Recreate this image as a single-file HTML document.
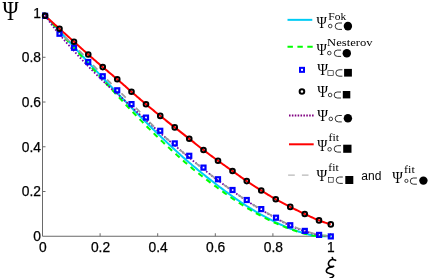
<!DOCTYPE html><html><head><meta charset="utf-8"><style>html,body{margin:0;padding:0;background:#fff;overflow:hidden}svg{display:block;will-change:transform}</style></head><body><svg width="436" height="278" viewBox="0 0 436 278">
<rect width="436" height="278" fill="#fff"/>
<g stroke="#6a6a6a" stroke-width="1" fill="none">
<path d="M42.5,12.5 V236.25 H331"/>
<path d="M42.5,191.51 h3"/>
<path d="M100.10,236.25 v-3"/>
<path d="M42.5,146.77 h3"/>
<path d="M157.70,236.25 v-3"/>
<path d="M42.5,102.03 h3"/>
<path d="M215.30,236.25 v-3"/>
<path d="M42.5,57.29 h3"/>
<path d="M272.90,236.25 v-3"/>
<path d="M42.5,12.55 h3"/>
<path d="M330.50,236.25 v-3"/>
</g>
<g font-family="Liberation Sans, sans-serif" font-size="13.8" fill="#000" stroke="#000" stroke-width="0.25">
<text x="40.9" y="240.95" text-anchor="end">0</text>
<text x="42.90" y="251.7" text-anchor="middle">0</text>
<text x="40.9" y="196.46" text-anchor="end">0.2</text>
<text x="100.50" y="251.7" text-anchor="middle">0.2</text>
<text x="40.9" y="151.72" text-anchor="end">0.4</text>
<text x="158.10" y="251.7" text-anchor="middle">0.4</text>
<text x="40.9" y="106.98" text-anchor="end">0.6</text>
<text x="215.70" y="251.7" text-anchor="middle">0.6</text>
<text x="40.9" y="62.24" text-anchor="end">0.8</text>
<text x="273.30" y="251.7" text-anchor="middle">0.8</text>
<text x="40.9" y="17.50" text-anchor="end">1</text>
<text x="330.90" y="251.7" text-anchor="middle">1</text>
</g>
<g fill="none" stroke-linejoin="round">
<path d="M45.10,15.40 L46.06,16.44 L47.01,17.49 L47.97,18.53 L48.92,19.58 L49.88,20.62 L50.83,21.67 L51.79,22.71 L52.74,23.76 L53.70,24.80 L54.66,25.85 L55.61,26.89 L56.57,27.94 L57.52,28.98 L58.48,30.03 L59.43,31.07 L60.39,32.11 L61.34,33.16 L62.30,34.20 L63.25,35.24 L64.21,36.28 L65.17,37.32 L66.12,38.36 L67.08,39.41 L68.03,40.45 L68.99,41.49 L69.94,42.52 L70.90,43.56 L71.85,44.60 L72.81,45.64 L73.77,46.68 L74.72,47.71 L75.68,48.75 L76.63,49.79 L77.59,50.82 L78.54,51.85 L79.50,52.89 L80.45,53.92 L81.41,54.95 L82.37,55.99 L83.32,57.02 L84.28,58.05 L85.23,59.08 L86.19,60.11 L87.14,61.13 L88.10,62.16 L89.05,63.19 L90.01,64.21 L90.96,65.24 L91.92,66.26 L92.88,67.29 L93.83,68.31 L94.79,69.33 L95.74,70.35 L96.70,71.37 L97.65,72.39 L98.61,73.40 L99.56,74.42 L100.52,75.44 L101.48,76.45 L102.43,77.46 L103.39,78.48 L104.34,79.49 L105.30,80.50 L106.25,81.51 L107.21,82.51 L108.16,83.52 L109.12,84.53 L110.08,85.53 L111.03,86.53 L111.99,87.54 L112.94,88.54 L113.90,89.54 L114.85,90.53 L115.81,91.53 L116.76,92.53 L117.72,93.52 L118.67,94.51 L119.63,95.51 L120.59,96.50 L121.54,97.48 L122.50,98.47 L123.45,99.46 L124.41,100.44 L125.36,101.42 L126.32,102.41 L127.27,103.38 L128.23,104.36 L129.19,105.34 L130.14,106.31 L131.10,107.29 L132.05,108.26 L133.01,109.23 L133.96,110.20 L134.92,111.17 L135.87,112.13 L136.83,113.09 L137.79,114.06 L138.74,115.01 L139.70,115.97 L140.65,116.93 L141.61,117.88 L142.56,118.84 L143.52,119.79 L144.47,120.74 L145.43,121.68 L146.38,122.63 L147.34,123.57 L148.30,124.51 L149.25,125.45 L150.21,126.39 L151.16,127.32 L152.12,128.26 L153.07,129.19 L154.03,130.12 L154.98,131.04 L155.94,131.97 L156.90,132.89 L157.85,133.81 L158.81,134.73 L159.76,135.64 L160.72,136.56 L161.67,137.47 L162.63,138.38 L163.58,139.29 L164.54,140.19 L165.50,141.09 L166.45,141.99 L167.41,142.89 L168.36,143.78 L169.32,144.68 L170.27,145.57 L171.23,146.45 L172.18,147.34 L173.14,148.22 L174.09,149.10 L175.05,149.98 L176.01,150.85 L176.96,151.73 L177.92,152.60 L178.87,153.46 L179.83,154.33 L180.78,155.19 L181.74,156.05 L182.69,156.90 L183.65,157.76 L184.61,158.61 L185.56,159.45 L186.52,160.30 L187.47,161.12 L188.43,161.93 L189.38,162.75 L190.34,163.56 L191.29,164.36 L192.25,165.17 L193.21,165.97 L194.16,166.77 L195.12,167.56 L196.07,168.35 L197.03,169.14 L197.98,169.93 L198.94,170.71 L199.89,171.49 L200.85,172.26 L201.81,173.04 L202.76,173.81 L203.72,174.57 L204.67,175.34 L205.63,176.10 L206.58,176.85 L207.54,177.60 L208.49,178.35 L209.45,179.10 L210.40,179.84 L211.36,180.58 L212.32,181.32 L213.27,182.05 L214.23,182.78 L215.18,183.50 L216.14,184.24 L217.09,184.98 L218.05,185.72 L219.00,186.45 L219.96,187.18 L220.92,187.91 L221.87,188.63 L222.83,189.35 L223.78,190.06 L224.74,190.77 L225.69,191.48 L226.65,192.18 L227.60,192.88 L228.56,193.57 L229.52,194.26 L230.47,194.95 L231.43,195.63 L232.38,196.31 L233.34,196.98 L234.29,197.65 L235.25,198.32 L236.20,198.98 L237.16,199.64 L238.11,200.29 L239.07,200.94 L240.03,201.58 L240.98,202.22 L241.94,202.86 L242.89,203.49 L243.85,204.12 L244.80,204.74 L245.76,205.36 L246.71,205.97 L247.67,206.58 L248.63,207.18 L249.58,207.78 L250.54,208.37 L251.49,208.96 L252.45,209.55 L253.40,210.13 L254.36,210.71 L255.31,211.28 L256.27,211.84 L257.23,212.40 L258.18,212.96 L259.14,213.51 L260.09,214.06 L261.05,214.60 L262.00,215.13 L262.96,215.66 L263.91,216.19 L264.87,216.71 L265.82,217.23 L266.78,217.74 L267.74,218.24 L268.69,218.74 L269.65,219.24 L270.60,219.73 L271.56,220.21 L272.51,220.69 L273.47,221.16 L274.42,221.63 L275.38,222.09 L276.34,222.55 L277.29,223.00 L278.25,223.44 L279.20,223.88 L280.16,224.32 L281.11,224.74 L282.07,225.17 L283.02,225.58 L283.98,226.00 L284.94,226.40 L285.89,226.80 L286.85,227.19 L287.80,227.58 L288.76,227.96 L289.71,228.34 L290.67,228.71 L291.62,229.07 L292.58,229.43 L293.53,229.78 L294.49,230.12 L295.45,230.46 L296.40,230.80 L297.36,231.12 L298.31,231.44 L299.27,231.76 L300.22,232.06 L301.18,232.36 L302.13,232.66 L303.09,232.95 L304.05,233.23 L305.00,233.50 L305.96,233.77 L306.91,234.03 L307.87,234.29 L308.82,234.54 L309.78,234.78 L310.73,235.01 L311.69,235.24 L312.65,235.46 L313.60,235.68 L314.56,235.88 L315.51,236.08 L316.47,236.25 L317.42,236.25 L318.38,236.25 L319.33,236.25 L320.29,236.25 L321.24,236.25 L322.20,236.25 L323.16,236.25 L324.11,236.25 L325.07,236.25 L326.02,236.25 L326.98,236.25 L327.93,236.25 L328.89,236.25 L329.84,236.25 L330.80,236.25" stroke="#00ccf5" stroke-width="2"/>
<path d="M45.10,15.40 L46.06,16.48 L47.01,17.56 L47.97,18.64 L48.92,19.72 L49.88,20.80 L50.83,21.88 L51.79,22.95 L52.74,24.03 L53.70,25.11 L54.66,26.19 L55.61,27.27 L56.57,28.34 L57.52,29.42 L58.48,30.50 L59.43,31.57 L60.39,32.65 L61.34,33.72 L62.30,34.80 L63.25,35.87 L64.21,36.95 L65.17,38.02 L66.12,39.09 L67.08,40.17 L68.03,41.24 L68.99,42.31 L69.94,43.38 L70.90,44.45 L71.85,45.52 L72.81,46.59 L73.77,47.66 L74.72,48.72 L75.68,49.79 L76.63,50.85 L77.59,51.92 L78.54,52.98 L79.50,54.05 L80.45,55.11 L81.41,56.17 L82.37,57.23 L83.32,58.29 L84.28,59.35 L85.23,60.41 L86.19,61.46 L87.14,62.52 L88.10,63.58 L89.05,64.63 L90.01,65.69 L90.96,66.74 L91.92,67.80 L92.88,68.85 L93.83,69.90 L94.79,70.95 L95.74,72.00 L96.70,73.05 L97.65,74.10 L98.61,75.15 L99.56,76.20 L100.52,77.25 L101.48,78.30 L102.43,79.35 L103.39,80.40 L104.34,81.44 L105.30,82.49 L106.25,83.54 L107.21,84.59 L108.16,85.63 L109.12,86.68 L110.08,87.72 L111.03,88.76 L111.99,89.81 L112.94,90.85 L113.90,91.89 L114.85,92.93 L115.81,93.96 L116.76,95.00 L117.72,96.03 L118.67,97.06 L119.63,98.09 L120.59,99.12 L121.54,100.14 L122.50,101.17 L123.45,102.19 L124.41,103.20 L125.36,104.22 L126.32,105.23 L127.27,106.24 L128.23,107.24 L129.19,108.25 L130.14,109.25 L131.10,110.25 L132.05,111.25 L133.01,112.24 L133.96,113.24 L134.92,114.23 L135.87,115.23 L136.83,116.22 L137.79,117.21 L138.74,118.19 L139.70,119.18 L140.65,120.16 L141.61,121.14 L142.56,122.11 L143.52,123.09 L144.47,124.06 L145.43,125.03 L146.38,126.00 L147.34,126.96 L148.30,127.92 L149.25,128.87 L150.21,129.83 L151.16,130.78 L152.12,131.72 L153.07,132.66 L154.03,133.60 L154.98,134.53 L155.94,135.46 L156.90,136.39 L157.85,137.31 L158.81,138.23 L159.76,139.14 L160.72,140.05 L161.67,140.96 L162.63,141.87 L163.58,142.77 L164.54,143.67 L165.50,144.57 L166.45,145.47 L167.41,146.36 L168.36,147.25 L169.32,148.14 L170.27,149.02 L171.23,149.90 L172.18,150.78 L173.14,151.65 L174.09,152.52 L175.05,153.39 L176.01,154.26 L176.96,155.12 L177.92,155.98 L178.87,156.84 L179.83,157.70 L180.78,158.55 L181.74,159.40 L182.69,160.24 L183.65,161.09 L184.61,161.93 L185.56,162.77 L186.52,163.60 L187.47,164.41 L188.43,165.21 L189.38,166.01 L190.34,166.80 L191.29,167.59 L192.25,168.38 L193.21,169.16 L194.16,169.94 L195.12,170.71 L196.07,171.48 L197.03,172.25 L197.98,173.01 L198.94,173.77 L199.89,174.52 L200.85,175.27 L201.81,176.02 L202.76,176.76 L203.72,177.50 L204.67,178.23 L205.63,178.97 L206.58,179.69 L207.54,180.42 L208.49,181.14 L209.45,181.86 L210.40,182.58 L211.36,183.29 L212.32,184.00 L213.27,184.70 L214.23,185.40 L215.18,186.10 L216.14,186.82 L217.09,187.53 L218.05,188.25 L219.00,188.95 L219.96,189.66 L220.92,190.36 L221.87,191.05 L222.83,191.74 L223.78,192.43 L224.74,193.12 L225.69,193.80 L226.65,194.47 L227.60,195.14 L228.56,195.81 L229.52,196.47 L230.47,197.13 L231.43,197.79 L232.38,198.44 L233.34,199.09 L234.29,199.73 L235.25,200.37 L236.20,201.00 L237.16,201.63 L238.11,202.26 L239.07,202.88 L240.03,203.50 L240.98,204.11 L241.94,204.72 L242.89,205.32 L243.85,205.92 L244.80,206.52 L245.76,207.11 L246.71,207.70 L247.67,208.28 L248.63,208.85 L249.58,209.43 L250.54,209.99 L251.49,210.56 L252.45,211.11 L253.40,211.67 L254.36,212.22 L255.31,212.76 L256.27,213.30 L257.23,213.83 L258.18,214.36 L259.14,214.89 L260.09,215.40 L261.05,215.92 L262.00,216.43 L262.96,216.93 L263.91,217.43 L264.87,217.93 L265.82,218.42 L266.78,218.90 L267.74,219.38 L268.69,219.85 L269.65,220.32 L270.60,220.79 L271.56,221.24 L272.51,221.70 L273.47,222.15 L274.42,222.59 L275.38,223.02 L276.34,223.45 L277.29,223.88 L278.25,224.30 L279.20,224.71 L280.16,225.12 L281.11,225.52 L282.07,225.92 L283.02,226.31 L283.98,226.69 L284.94,227.07 L285.89,227.45 L286.85,227.81 L287.80,228.18 L288.76,228.53 L289.71,228.88 L290.67,229.23 L291.62,229.57 L292.58,229.90 L293.53,230.23 L294.49,230.56 L295.45,230.88 L296.40,231.19 L297.36,231.50 L298.31,231.80 L299.27,232.09 L300.22,232.39 L301.18,232.67 L302.13,232.95 L303.09,233.23 L304.05,233.49 L305.00,233.76 L305.96,234.01 L306.91,234.26 L307.87,234.50 L308.82,234.74 L309.78,234.97 L310.73,235.19 L311.69,235.40 L312.65,235.61 L313.60,235.82 L314.56,235.85 L315.51,235.85 L316.47,235.85 L317.42,235.85 L318.38,235.85 L319.33,235.85 L320.29,235.85 L321.24,235.85 L322.20,235.85 L323.16,235.85 L324.11,235.85 L325.07,235.85 L326.02,235.85 L326.98,235.85 L327.93,235.85 L328.89,235.85 L329.84,235.85 L330.80,235.85" stroke="#00ff00" stroke-width="2" stroke-dasharray="5.4 4.6" stroke-dashoffset="9.66"/>
<path d="M45.10,15.80 L46.06,17.12 L47.01,18.43 L47.97,19.74 L48.92,21.03 L49.88,22.31 L50.83,23.58 L51.79,24.84 L52.74,26.08 L53.70,27.31 L54.66,28.53 L55.61,29.73 L56.57,30.91 L57.52,32.07 L58.48,33.22 L59.43,34.35 L60.39,35.46 L61.34,36.60 L62.30,37.74 L63.25,38.89 L64.21,40.04 L65.17,41.18 L66.12,42.30 L67.08,43.40 L68.03,44.47 L68.99,45.50 L69.94,46.53 L70.90,47.57 L71.85,48.61 L72.81,49.66 L73.77,50.72 L74.72,51.79 L75.68,52.86 L76.63,53.93 L77.59,54.99 L78.54,56.04 L79.50,57.09 L80.45,58.12 L81.41,59.15 L82.37,60.17 L83.32,61.18 L84.28,62.20 L85.23,63.21 L86.19,64.21 L87.14,65.21 L88.10,66.20 L89.05,67.19 L90.01,68.17 L90.96,69.14 L91.92,70.11 L92.88,71.06 L93.83,72.01 L94.79,72.95 L95.74,73.89 L96.70,74.83 L97.65,75.76 L98.61,76.69 L99.56,77.62 L100.52,78.55 L101.48,79.47 L102.43,80.39 L103.39,81.32 L104.34,82.24 L105.30,83.15 L106.25,84.07 L107.21,84.98 L108.16,85.88 L109.12,86.76 L110.08,87.61 L111.03,88.46 L111.99,89.29 L112.94,90.11 L113.90,90.93 L114.85,91.74 L115.81,92.55 L116.76,93.36 L117.72,94.17 L118.67,95.00 L119.63,95.83 L120.59,96.68 L121.54,97.54 L122.50,98.42 L123.45,99.31 L124.41,100.21 L125.36,101.11 L126.32,102.01 L127.27,102.92 L128.23,103.82 L129.19,104.72 L130.14,105.61 L131.10,106.50 L132.05,107.39 L133.01,108.27 L133.96,109.15 L134.92,110.02 L135.87,110.89 L136.83,111.75 L137.79,112.61 L138.74,113.47 L139.70,114.33 L140.65,115.18 L141.61,116.04 L142.56,116.90 L143.52,117.76 L144.47,118.62 L145.43,119.48 L146.38,120.35 L147.34,121.23 L148.30,122.10 L149.25,122.98 L150.21,123.86 L151.16,124.74 L152.12,125.62 L153.07,126.50 L154.03,127.38 L154.98,128.26 L155.94,129.13 L156.90,130.00 L157.85,130.86 L158.81,131.72 L159.76,132.58 L160.72,133.43 L161.67,134.27 L162.63,135.10 L163.58,135.93 L164.54,136.76 L165.50,137.59 L166.45,138.41 L167.41,139.22 L168.36,140.04 L169.32,140.85 L170.27,141.67 L171.23,142.48 L172.18,143.29 L173.14,144.10 L174.09,144.92 L175.05,145.73 L176.01,146.55 L176.96,147.36 L177.92,148.17 L178.87,148.98 L179.83,149.80 L180.78,150.61 L181.74,151.42 L182.69,152.22 L183.65,153.03 L184.61,153.83 L185.56,154.63 L186.52,155.43 L187.47,156.23 L188.43,157.02 L189.38,157.81 L190.34,158.60 L191.29,159.38 L192.25,160.17 L193.21,160.94 L194.16,161.72 L195.12,162.49 L196.07,163.27 L197.03,164.03 L197.98,164.80 L198.94,165.57 L199.89,166.33 L200.85,167.09 L201.81,167.84 L202.76,168.60 L203.72,169.35 L204.67,170.11 L205.63,170.86 L206.58,171.62 L207.54,172.37 L208.49,173.12 L209.45,173.87 L210.40,174.62 L211.36,175.36 L212.32,176.10 L213.27,176.84 L214.23,177.58 L215.18,178.31 L216.14,179.03 L217.09,179.75 L218.05,180.47 L219.00,181.18 L219.96,181.88 L220.92,182.59 L221.87,183.29 L222.83,183.98 L223.78,184.67 L224.74,185.36 L225.69,186.05 L226.65,186.73 L227.60,187.42 L228.56,188.10 L229.52,188.78 L230.47,189.46 L231.43,190.14 L232.38,190.82 L233.34,191.50 L234.29,192.17 L235.25,192.85 L236.20,193.53 L237.16,194.21 L238.11,194.88 L239.07,195.55 L240.03,196.22 L240.98,196.88 L241.94,197.54 L242.89,198.20 L243.85,198.85 L244.80,199.49 L245.76,200.13 L246.71,200.76 L247.67,201.38 L248.63,202.00 L249.58,202.62 L250.54,203.22 L251.49,203.83 L252.45,204.43 L253.40,205.02 L254.36,205.62 L255.31,206.20 L256.27,206.79 L257.23,207.37 L258.18,207.95 L259.14,208.53 L260.09,209.10 L261.05,209.68 L262.00,210.25 L262.96,210.82 L263.91,211.39 L264.87,211.95 L265.82,212.51 L266.78,213.07 L267.74,213.63 L268.69,214.18 L269.65,214.73 L270.60,215.28 L271.56,215.82 L272.51,216.36 L273.47,216.90 L274.42,217.43 L275.38,217.96 L276.34,218.48 L277.29,219.01 L278.25,219.53 L279.20,220.06 L280.16,220.59 L281.11,221.11 L282.07,221.63 L283.02,222.14 L283.98,222.65 L284.94,223.15 L285.89,223.64 L286.85,224.12 L287.80,224.58 L288.76,225.03 L289.71,225.47 L290.67,225.89 L291.62,226.30 L292.58,226.71 L293.53,227.10 L294.49,227.49 L295.45,227.87 L296.40,228.25 L297.36,228.61 L298.31,228.97 L299.27,229.32 L300.22,229.67 L301.18,230.00 L302.13,230.33 L303.09,230.65 L304.05,230.96 L305.00,231.26 L305.96,231.56 L306.91,231.86 L307.87,232.16 L308.82,232.46 L309.78,232.75 L310.73,233.04 L311.69,233.32 L312.65,233.58 L313.60,233.84 L314.56,234.09 L315.51,234.32 L316.47,234.54 L317.42,234.73 L318.38,234.92 L319.33,235.08 L320.29,235.23 L321.24,235.38 L322.20,235.52 L323.16,235.65 L324.11,235.78 L325.07,235.90 L326.02,236.01 L326.98,236.11 L327.93,236.20 L328.89,236.28 L329.84,236.35 L330.80,236.40" stroke="#7000a8" stroke-width="1.8" stroke-dasharray="1.6 1.8"/>
<path d="M45.10,15.80 L46.06,16.66 L47.01,17.52 L47.97,18.38 L48.92,19.24 L49.88,20.10 L50.83,20.96 L51.79,21.82 L52.74,22.68 L53.70,23.54 L54.66,24.40 L55.61,25.26 L56.57,26.11 L57.52,26.97 L58.48,27.83 L59.43,28.69 L60.39,29.55 L61.34,30.41 L62.30,31.26 L63.25,32.12 L64.21,32.98 L65.17,33.83 L66.12,34.69 L67.08,35.55 L68.03,36.40 L68.99,37.26 L69.94,38.12 L70.90,38.97 L71.85,39.83 L72.81,40.68 L73.77,41.54 L74.72,42.40 L75.68,43.25 L76.63,44.11 L77.59,44.97 L78.54,45.83 L79.50,46.69 L80.45,47.55 L81.41,48.41 L82.37,49.26 L83.32,50.12 L84.28,50.97 L85.23,51.82 L86.19,52.67 L87.14,53.52 L88.10,54.37 L89.05,55.21 L90.01,56.05 L90.96,56.89 L91.92,57.73 L92.88,58.56 L93.83,59.40 L94.79,60.23 L95.74,61.06 L96.70,61.89 L97.65,62.72 L98.61,63.55 L99.56,64.37 L100.52,65.19 L101.48,66.01 L102.43,66.83 L103.39,67.64 L104.34,68.45 L105.30,69.25 L106.25,70.05 L107.21,70.85 L108.16,71.64 L109.12,72.44 L110.08,73.23 L111.03,74.02 L111.99,74.82 L112.94,75.61 L113.90,76.41 L114.85,77.21 L115.81,78.02 L116.76,78.83 L117.72,79.65 L118.67,80.48 L119.63,81.31 L120.59,82.14 L121.54,82.98 L122.50,83.82 L123.45,84.66 L124.41,85.51 L125.36,86.35 L126.32,87.20 L127.27,88.04 L128.23,88.88 L129.19,89.73 L130.14,90.56 L131.10,91.40 L132.05,92.23 L133.01,93.06 L133.96,93.89 L134.92,94.73 L135.87,95.56 L136.83,96.39 L137.79,97.22 L138.74,98.05 L139.70,98.87 L140.65,99.70 L141.61,100.52 L142.56,101.34 L143.52,102.15 L144.47,102.96 L145.43,103.77 L146.38,104.57 L147.34,105.37 L148.30,106.17 L149.25,106.96 L150.21,107.75 L151.16,108.53 L152.12,109.31 L153.07,110.09 L154.03,110.87 L154.98,111.65 L155.94,112.42 L156.90,113.19 L157.85,113.97 L158.81,114.74 L159.76,115.51 L160.72,116.28 L161.67,117.04 L162.63,117.81 L163.58,118.57 L164.54,119.33 L165.50,120.09 L166.45,120.85 L167.41,121.61 L168.36,122.36 L169.32,123.12 L170.27,123.87 L171.23,124.63 L172.18,125.38 L173.14,126.13 L174.09,126.88 L175.05,127.64 L176.01,128.39 L176.96,129.14 L177.92,129.89 L178.87,130.64 L179.83,131.38 L180.78,132.13 L181.74,132.87 L182.69,133.62 L183.65,134.37 L184.61,135.11 L185.56,135.86 L186.52,136.61 L187.47,137.35 L188.43,138.10 L189.38,138.85 L190.34,139.61 L191.29,140.37 L192.25,141.12 L193.21,141.89 L194.16,142.65 L195.12,143.41 L196.07,144.17 L197.03,144.93 L197.98,145.69 L198.94,146.45 L199.89,147.20 L200.85,147.95 L201.81,148.69 L202.76,149.43 L203.72,150.17 L204.67,150.89 L205.63,151.62 L206.58,152.34 L207.54,153.06 L208.49,153.77 L209.45,154.48 L210.40,155.19 L211.36,155.90 L212.32,156.60 L213.27,157.31 L214.23,158.01 L215.18,158.70 L216.14,159.40 L217.09,160.09 L218.05,160.79 L219.00,161.47 L219.96,162.16 L220.92,162.84 L221.87,163.52 L222.83,164.20 L223.78,164.87 L224.74,165.54 L225.69,166.21 L226.65,166.89 L227.60,167.56 L228.56,168.23 L229.52,168.90 L230.47,169.57 L231.43,170.24 L232.38,170.92 L233.34,171.59 L234.29,172.28 L235.25,172.96 L236.20,173.65 L237.16,174.33 L238.11,175.02 L239.07,175.71 L240.03,176.39 L240.98,177.07 L241.94,177.75 L242.89,178.43 L243.85,179.10 L244.80,179.77 L245.76,180.42 L246.71,181.08 L247.67,181.72 L248.63,182.36 L249.58,183.00 L250.54,183.63 L251.49,184.26 L252.45,184.89 L253.40,185.51 L254.36,186.13 L255.31,186.74 L256.27,187.35 L257.23,187.96 L258.18,188.57 L259.14,189.17 L260.09,189.77 L261.05,190.37 L262.00,190.97 L262.96,191.57 L263.91,192.16 L264.87,192.76 L265.82,193.35 L266.78,193.94 L267.74,194.52 L268.69,195.10 L269.65,195.68 L270.60,196.26 L271.56,196.82 L272.51,197.39 L273.47,197.95 L274.42,198.50 L275.38,199.04 L276.34,199.58 L277.29,200.11 L278.25,200.63 L279.20,201.15 L280.16,201.67 L281.11,202.18 L282.07,202.69 L283.02,203.19 L283.98,203.69 L284.94,204.18 L285.89,204.67 L286.85,205.17 L287.80,205.65 L288.76,206.14 L289.71,206.63 L290.67,207.11 L291.62,207.60 L292.58,208.08 L293.53,208.56 L294.49,209.03 L295.45,209.51 L296.40,209.98 L297.36,210.45 L298.31,210.92 L299.27,211.38 L300.22,211.85 L301.18,212.31 L302.13,212.76 L303.09,213.22 L304.05,213.67 L305.00,214.12 L305.96,214.57 L306.91,215.02 L307.87,215.47 L308.82,215.92 L309.78,216.37 L310.73,216.82 L311.69,217.26 L312.65,217.70 L313.60,218.13 L314.56,218.56 L315.51,218.97 L316.47,219.38 L317.42,219.78 L318.38,220.16 L319.33,220.53 L320.29,220.89 L321.24,221.25 L322.20,221.59 L323.16,221.94 L324.11,222.27 L325.07,222.60 L326.02,222.92 L326.98,223.23 L327.93,223.53 L328.89,223.83 L329.84,224.12 L330.80,224.40" stroke="#ff0000" stroke-width="2"/>
<path d="M64.58,37.10 L65.51,37.92 L66.43,38.74 L67.37,39.56 L68.30,40.38 L69.23,41.20 M79.01,50.44 L79.89,51.32 L80.76,52.20 L81.64,53.08 L82.51,53.96 L83.37,54.85 M93.08,65.08 L93.93,65.98 L94.78,66.89 L95.62,67.79 L96.47,68.69 L97.33,69.60 M107.07,79.55 L107.96,80.41 L108.85,81.27 L109.75,82.13 L110.64,82.99 L111.54,83.85 M121.38,93.32 L122.27,94.18 L123.16,95.05 L124.04,95.92 L124.92,96.79 L125.80,97.67 M135.81,107.83 L136.69,108.71 L137.56,109.59 L138.44,110.47 L139.30,111.36 L140.17,112.25 M149.63,122.20 L150.49,123.09 L151.36,123.97 L152.24,124.85 L153.12,125.72 L154.00,126.59 M164.67,136.69 L165.60,137.51 L166.53,138.32 L167.47,139.14 L168.41,139.94 L169.35,140.75 M179.93,149.78 L180.88,150.58 L181.83,151.38 L182.77,152.18 L183.72,152.98 L184.67,153.78 M195.29,162.55 L196.25,163.33 L197.22,164.11 L198.18,164.89 L199.15,165.66 L200.12,166.44 M209.86,174.13 L210.83,174.90 L211.81,175.66 L212.79,176.42 L213.77,177.18 L214.76,177.93 M223.78,184.61 L224.79,185.33 L225.80,186.05 L226.80,186.77 L227.82,187.49 L228.83,188.21 M238.05,194.71 L239.07,195.42 L240.09,196.12 L241.11,196.83 L242.13,197.53 L243.16,198.23 M252.26,204.10 L253.31,204.76 L254.37,205.40 L255.43,206.05 L256.49,206.69 L257.56,207.33 M266.51,212.59 L267.58,213.20 L268.66,213.82 L269.74,214.43 L270.82,215.04 L271.90,215.64 M280.76,220.48 L281.86,221.07 L282.95,221.65 L284.05,222.22 L285.15,222.79 L286.26,223.34 M294.91,227.13 L296.06,227.58 L297.22,228.02 L298.38,228.46 L299.54,228.89 L300.71,229.31 M309.14,232.11 L310.32,232.48 L311.51,232.85 L312.69,233.20 L313.89,233.54 L315.09,233.86 M322.44,235.33 L323.66,235.53 L324.89,235.71 L326.11,235.89 L327.34,236.05 L328.58,236.19" stroke="#9c9c9c" stroke-width="1.7"/>
</g>
<g fill="none" stroke="#0000ff" stroke-width="2.2">
<rect x="43.10" y="13.80" width="4" height="4"/>
<rect x="57.50" y="31.75" width="4" height="4"/>
<rect x="72.00" y="45.75" width="4" height="4"/>
<rect x="86.25" y="60.00" width="4" height="4"/>
<rect x="100.75" y="74.25" width="4" height="4"/>
<rect x="115.25" y="88.30" width="4" height="4"/>
<rect x="129.50" y="102.10" width="4" height="4"/>
<rect x="144.00" y="115.60" width="4" height="4"/>
<rect x="158.25" y="128.80" width="4" height="4"/>
<rect x="172.75" y="141.40" width="4" height="4"/>
<rect x="187.25" y="153.80" width="4" height="4"/>
<rect x="201.50" y="165.60" width="4" height="4"/>
<rect x="216.00" y="177.25" width="4" height="4"/>
<rect x="230.50" y="188.00" width="4" height="4"/>
<rect x="244.75" y="198.00" width="4" height="4"/>
<rect x="259.25" y="207.10" width="4" height="4"/>
<rect x="274.00" y="215.70" width="4" height="4"/>
<rect x="288.25" y="223.25" width="4" height="4"/>
<rect x="302.80" y="228.90" width="4" height="4"/>
<rect x="317.10" y="232.90" width="4" height="4"/>
<rect x="328.80" y="234.40" width="4" height="4"/>
</g>
<g fill="none" stroke="#000" stroke-width="1.95">
<circle cx="45.10" cy="15.80" r="2.33"/>
<circle cx="59.50" cy="28.75" r="2.33"/>
<circle cx="74.00" cy="41.75" r="2.33"/>
<circle cx="88.25" cy="54.50" r="2.33"/>
<circle cx="102.75" cy="67.10" r="2.33"/>
<circle cx="117.25" cy="79.25" r="2.33"/>
<circle cx="131.50" cy="91.75" r="2.33"/>
<circle cx="146.00" cy="104.25" r="2.33"/>
<circle cx="160.25" cy="115.90" r="2.33"/>
<circle cx="174.75" cy="127.40" r="2.33"/>
<circle cx="189.25" cy="138.75" r="2.33"/>
<circle cx="203.50" cy="150.00" r="2.33"/>
<circle cx="218.00" cy="160.75" r="2.33"/>
<circle cx="232.50" cy="171.00" r="2.33"/>
<circle cx="246.75" cy="181.10" r="2.33"/>
<circle cx="261.25" cy="190.50" r="2.33"/>
<circle cx="275.75" cy="199.25" r="2.33"/>
<circle cx="290.25" cy="206.90" r="2.33"/>
<circle cx="304.75" cy="214.00" r="2.33"/>
<circle cx="319.00" cy="220.40" r="2.33"/>
<circle cx="330.80" cy="224.40" r="2.33"/>
</g>
<path d="M287.5,19.85 H312.3" stroke="#00ccf5" stroke-width="2"/>
<path d="M287.5,46.85 H312.7" stroke="#00ff00" stroke-width="2" stroke-dasharray="5.4 4.5"/>
<rect x="300" y="67.85" width="4" height="4" fill="none" stroke="#0000ff" stroke-width="2"/>
<circle cx="301.95" cy="91.45" r="2.3" fill="none" stroke="#000" stroke-width="2"/>
<path d="M289,115.5 H313.7" stroke="#800080" stroke-width="2" stroke-dasharray="1.55 1.33"/>
<path d="M289,144.3 H313.7" stroke="#ff0000" stroke-width="2"/>
<path d="M288.1,175.05 H294.8 M301.9,175.05 H308.5" stroke="#b8b8b8" stroke-width="1.2"/>
<text x="316.40" y="28.10" font-family="Liberation Serif, serif" font-size="16.79" textLength="10.30" lengthAdjust="spacingAndGlyphs">&#936;</text>
<text x="328.30" y="19.50" font-family="Liberation Serif, serif" font-size="10.8" textLength="18.00" lengthAdjust="spacingAndGlyphs">Fok</text>
<circle cx="330.20" cy="26.05" r="1.8" fill="none" stroke="#000" stroke-width="0.75"/>
<path d="M342.00,23.00 H338.40 A3.20,3.20 0 0 0 338.40,29.40 H342.00" fill="none" stroke="#000" stroke-width="0.8"/>
<ellipse cx="347.90" cy="26.10" rx="4.20" ry="4.30" fill="#000"/>
<text x="316.40" y="55.30" font-family="Liberation Serif, serif" font-size="16.79" textLength="10.30" lengthAdjust="spacingAndGlyphs">&#936;</text>
<text x="327.10" y="46.25" font-family="Liberation Serif, serif" font-size="10.8" textLength="45.50" lengthAdjust="spacingAndGlyphs">Nesterov</text>
<circle cx="329.30" cy="53.05" r="1.8" fill="none" stroke="#000" stroke-width="0.75"/>
<path d="M341.10,50.10 H337.45 A3.15,3.15 0 0 0 337.45,56.40 H341.10" fill="none" stroke="#000" stroke-width="0.8"/>
<ellipse cx="346.80" cy="53.15" rx="4.20" ry="4.25" fill="#000"/>
<text x="317.20" y="74.60" font-family="Liberation Serif, serif" font-size="17.25" textLength="10.80" lengthAdjust="spacingAndGlyphs">&#936;</text>
<rect x="327.90" y="70.70" width="5.30" height="4.70" fill="none" stroke="#000" stroke-width="0.6"/>
<path d="M342.40,69.80 H339.00 A3.20,3.20 0 0 0 339.00,76.20 H342.40" fill="none" stroke="#000" stroke-width="0.8"/>
<rect x="344.10" y="68.90" width="7.80" height="7.70" fill="#000"/>
<text x="317.20" y="96.80" font-family="Liberation Serif, serif" font-size="17.25" textLength="10.80" lengthAdjust="spacingAndGlyphs">&#936;</text>
<circle cx="330.10" cy="95.00" r="1.8" fill="none" stroke="#000" stroke-width="0.75"/>
<path d="M341.00,92.00 H337.20 A3.00,3.00 0 0 0 337.20,98.00 H341.00" fill="none" stroke="#000" stroke-width="0.8"/>
<rect x="342.80" y="91.00" width="7.50" height="7.40" fill="#000"/>
<text x="317.20" y="120.60" font-family="Liberation Serif, serif" font-size="17.25" textLength="10.80" lengthAdjust="spacingAndGlyphs">&#936;</text>
<circle cx="330.80" cy="118.90" r="1.8" fill="none" stroke="#000" stroke-width="0.75"/>
<path d="M341.80,115.50 H338.40 A3.20,3.20 0 0 0 338.40,121.90 H341.80" fill="none" stroke="#000" stroke-width="0.8"/>
<ellipse cx="347.90" cy="118.25" rx="4.20" ry="4.35" fill="#000"/>
<text x="317.20" y="150.80" font-family="Liberation Serif, serif" font-size="16.64" textLength="10.10" lengthAdjust="spacingAndGlyphs">&#936;</text>
<text x="328.60" y="141.05" font-family="Liberation Serif, serif" font-size="10.8" textLength="10.50" lengthAdjust="spacingAndGlyphs">fit</text>
<circle cx="329.60" cy="149.30" r="1.8" fill="none" stroke="#000" stroke-width="0.75"/>
<path d="M341.00,145.70 H337.40 A3.20,3.20 0 0 0 337.40,152.10 H341.00" fill="none" stroke="#000" stroke-width="0.8"/>
<rect x="343.20" y="144.70" width="8.30" height="8.10" fill="#000"/>
<text x="316.40" y="181.40" font-family="Liberation Serif, serif" font-size="17.10" textLength="10.70" lengthAdjust="spacingAndGlyphs">&#936;</text>
<text x="328.30" y="171.45" font-family="Liberation Serif, serif" font-size="10.8" textLength="10.40" lengthAdjust="spacingAndGlyphs">fit</text>
<rect x="328.60" y="177.50" width="4.60" height="4.70" fill="none" stroke="#000" stroke-width="0.6"/>
<path d="M342.80,177.00 H339.40 A3.20,3.20 0 0 0 339.40,183.40 H342.80" fill="none" stroke="#000" stroke-width="0.8"/>
<rect x="345.30" y="176.00" width="8.00" height="8.00" fill="#000"/>
<text x="361.3" y="180.1" font-family="Liberation Sans, sans-serif" font-size="12">and</text>
<text x="392.20" y="183.00" font-family="Liberation Serif, serif" font-size="16.49" textLength="10.60" lengthAdjust="spacingAndGlyphs">&#936;</text>
<text x="404.00" y="172.95" font-family="Liberation Serif, serif" font-size="10.8" textLength="10.80" lengthAdjust="spacingAndGlyphs">fit</text>
<circle cx="406.40" cy="180.90" r="1.6" fill="none" stroke="#000" stroke-width="0.75"/>
<path d="M416.90,178.00 H413.40 A3.10,3.10 0 0 0 413.40,184.20 H416.90" fill="none" stroke="#000" stroke-width="0.8"/>
<ellipse cx="423.40" cy="180.60" rx="4.20" ry="4.10" fill="#000"/>
<text x="2.50" y="19.80" font-family="Liberation Serif, serif" font-size="26.87" textLength="16.10" lengthAdjust="spacingAndGlyphs">&#936;</text>
<path d="M332.3,257.6 L333,259.4 M335.6,260.3 C333.5,259.4 331.5,259.3 330.2,260.3 C328.3,261.8 327.8,264.3 329.3,265.8 C330.4,266.8 332.3,266.7 333.6,266.3 M333.0,266.9 C330.5,266.9 327.4,268.2 326.5,270.2 C325.9,271.8 327.0,272.8 329.0,273.3 C331.0,273.8 333.6,274.3 333.7,275.6 C333.7,276.8 332.0,277.6 330.0,278" fill="none" stroke="#000" stroke-width="1.6" stroke-linecap="round" stroke-linejoin="round"/>
</svg></body></html>
